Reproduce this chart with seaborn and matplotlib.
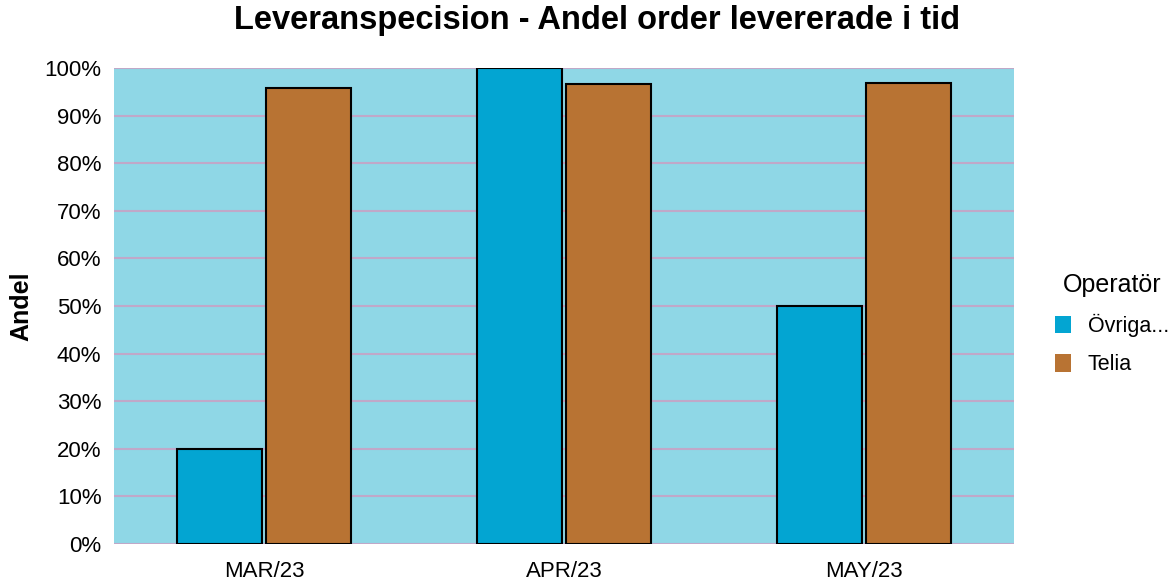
import matplotlib
matplotlib.use("Agg")
import matplotlib.pyplot as plt
import seaborn as sns
import pandas as pd
from matplotlib.ticker import FuncFormatter, MultipleLocator

months = ["MAR/23", "APR/23", "MAY/23"]
operators = ["Övriga...", "Telia"]
ovriga = [20.0, 100.0, 50.0]
telia = [95.7, 96.6, 96.8]

df = pd.DataFrame({
    "Månad": months * 2,
    "Operatör": [operators[0]] * 3 + [operators[1]] * 3,
    "Andel": ovriga + telia,
})

sns.set_theme(style="white")
plt.rcParams["font.family"] = ["Liberation Sans", "DejaVu Sans"]
plt.rcParams["text.color"] = "black"
plt.rcParams["axes.labelcolor"] = "black"

fig = plt.figure(figsize=(11.73, 5.84), dpi=100)
ax = fig.add_axes([114 / 1173, 40 / 584, 900 / 1173, 476 / 584])
ax.set_facecolor("#8fd7e6")

palette = {operators[0]: "#03a5d2", operators[1]: "#b87333"}
sns.barplot(data=df, x="Månad", y="Andel", hue="Operatör", palette=palette,
            width=0.59, gap=0.035, edgecolor="black", linewidth=1.5,
            saturation=1, ax=ax, zorder=3)

ax.set_ylim(0, 100)
ax.set_xlim(-0.5, 2.5)
ax.yaxis.set_major_locator(MultipleLocator(10))
ax.yaxis.set_major_formatter(FuncFormatter(lambda v, p: f"{int(round(v))}%"))
ax.grid(axis="y", color="#c0a8c8", linewidth=1.5, zorder=0)
ax.set_axisbelow(True)
for s in ax.spines.values():
    s.set_visible(False)
ax.tick_params(axis="y", length=0, labelsize=16, colors="black", pad=9)
ax.tick_params(axis="x", length=0, labelsize=16, colors="black", pad=12)
ax.set_xlabel("")
ax.set_ylabel("Andel", fontsize=18, fontweight="bold", labelpad=8, color="black")

fig.suptitle("Leveranspecision - Andel order levererade i tid", fontsize=23.5,
             fontweight="bold", x=(114 + 1014) / 2 / 1173 + 0.0285, y=0.992,
             color="black")

handles, labels = ax.get_legend_handles_labels()
for h in handles:
    h.set_edgecolor("none")
leg = ax.legend(handles, labels, title="Operatör", loc="center left",
                bbox_to_anchor=(1.0244, 0.462), frameon=False, fontsize=15.5,
                title_fontsize=18, handlelength=0.75, handleheight=0.85,
                labelspacing=0.8, handletextpad=0.75, alignment="center",
                labelcolor="black")
leg.get_title().set_color("black")

fig.savefig("out.png", dpi=100)
